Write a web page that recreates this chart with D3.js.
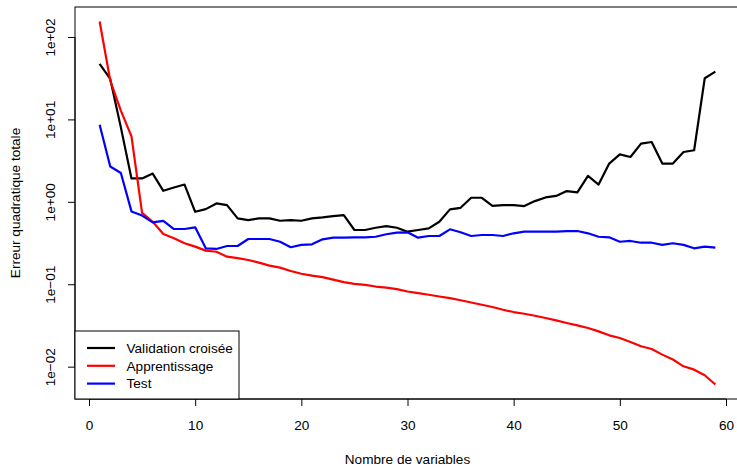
<!DOCTYPE html>
<html>
<head>
<meta charset="utf-8">
<script src="https://cdn.jsdelivr.net/npm/d3@7"></script>
<style>
  body { margin: 0; background: #fff; }
  svg { display: block; font-family: "Liberation Sans", Arial, sans-serif; }
</style>
</head>
<body>
<svg></svg>
<script>
// nombre de variables 1..59
let nbVariables = d3.range(1, 60);

let validation = [47.1, 31, 8, 1.92, 1.92, 2.2, 1.36, 1.49, 1.62, 0.757,
  0.816, 0.956, 0.912, 0.63, 0.60, 0.63, 0.63, 0.589, 0.60, 0.589,
  0.63, 0.647, 0.672, 0.69, 0.455, 0.455, 0.485, 0.508, 0.485, 0.434,
  0.455, 0.477, 0.573, 0.81, 0.846, 1.12, 1.12, 0.895, 0.912, 0.912,
  0.887, 1.02, 1.13, 1.18, 1.35, 1.30, 2.06, 1.62, 2.91, 3.77,
  3.50, 5.08, 5.32, 2.91, 2.91, 4.02, 4.22, 31.6, 38.0];

let apprentissage = [154, 29.6, 12.8, 6.23, 0.736, 0.573, 0.406, 0.361, 0.314, 0.286,
  0.256, 0.248, 0.216, 0.207, 0.197, 0.183, 0.168, 0.159, 0.145, 0.134,
  0.127, 0.122, 0.114, 0.106, 0.101, 0.0984, 0.0938, 0.0912, 0.0872, 0.0816,
  0.078, 0.0745, 0.071, 0.0679, 0.0639, 0.0601, 0.0564, 0.0529, 0.049, 0.046,
  0.0439, 0.0415, 0.0389, 0.0364, 0.0339, 0.0317, 0.0295, 0.0268, 0.024, 0.0223,
  0.0199, 0.0177, 0.0164, 0.014, 0.0122, 0.0101, 0.0092, 0.00787, 0.00608];

let test = [8.63, 2.68, 2.24, 0.765, 0.681, 0.563, 0.587, 0.468, 0.468, 0.49,
  0.273, 0.268, 0.291, 0.291, 0.354, 0.354, 0.354, 0.328, 0.281, 0.30,
  0.305, 0.351, 0.367, 0.367, 0.371, 0.371, 0.377, 0.404, 0.422, 0.427,
  0.367, 0.385, 0.385, 0.464, 0.427, 0.385, 0.396, 0.396, 0.385, 0.415,
  0.434, 0.434, 0.434, 0.434, 0.442, 0.442, 0.415, 0.377, 0.371, 0.328,
  0.335, 0.319, 0.319, 0.30, 0.314, 0.30, 0.273, 0.286, 0.278];

let xTicks = [0, 10, 20, 30, 40, 50, 60];
let yTicks = [1e-2, 1e-1, 1, 10, 100];
let yTickLabels = ["1e\u221202", "1e\u221201", "1e+00", "1e+01", "1e+02"];

let legendLabels = ["Validation croisée", "Apprentissage", "Test"];
let colors = ["#000000", "#ff0000", "#0000ff"];

let width = 737;
let height = 467;
let plotLeft = 75, plotRight = 740, plotTop = 7, plotBottom = 399;
let fontSize = 13.6;

const svg = d3.select('svg').attr('width', width).attr('height', height);

let series = [validation, apprentissage, test];

// etendue a la maniere de R (4 %)
let xMin = d3.min(nbVariables), xMax = d3.max(nbVariables);
let xPad = (xMax - xMin) * 0.04;
let allY = series.flat();
let lMin = Math.log10(d3.min(allY)), lMax = Math.log10(d3.max(allY));
let lPad = (lMax - lMin) * 0.04;

let xScale = d3.scaleLinear()
               .domain([xMin - xPad, xMax + xPad])
               .range([plotLeft, plotRight]);

let yScale = d3.scaleLog()
               .domain([Math.pow(10, lMin - lPad), Math.pow(10, lMax + lPad)])
               .range([plotBottom, plotTop]);

// lignes
let line = (vals) => d3.line()
    .x((d, i) => xScale(nbVariables[i]))
    .y((d) => yScale(d))(vals);

series.forEach((vals, k) => {
    svg.append('path')
       .attr('d', line(vals))
       .attr('fill', 'none')
       .attr('stroke', colors[k])
       .attr('stroke-width', 2.2)
       .attr('stroke-linejoin', 'round');
});

// boite
svg.append('rect')
   .attr('x', plotLeft).attr('y', plotTop)
   .attr('width', plotRight - plotLeft).attr('height', plotBottom - plotTop)
   .attr('fill', 'none').attr('stroke', '#000').attr('stroke-width', 1);

// axes
let xAxis = d3.axisBottom(xScale).tickValues(xTicks).tickSize(7).tickPadding(14).tickFormat(d3.format('d'));
let gx = svg.append('g')
   .attr('transform', 'translate(0,' + plotBottom + ')')
   .call(xAxis);
gx.attr('font-family', null);
gx.selectAll('text').attr('font-size', fontSize).attr('fill', '#000');
gx.select('.domain').attr('d', 'M' + xScale(0) + ',0H' + xScale(60));

let yAxis = d3.axisLeft(yScale).tickValues(yTicks).tickSize(7).tickFormat((d, i) => yTickLabels[i]);
let gy = svg.append('g')
   .attr('transform', 'translate(' + plotLeft + ',0)')
   .call(yAxis);
gy.attr('font-family', null);
gy.select('.domain').attr('d', 'M0,' + yScale(1e-2) + 'V' + yScale(100));
gy.selectAll('.tick text')
  .attr('x', null).attr('dy', null)
  .attr('text-anchor', 'middle')
  .attr('transform', 'translate(-20.5,0) rotate(-90)')
  .attr('font-size', fontSize).attr('fill', '#000');

// titres
svg.append('text')
   .attr('x', xScale(30)).attr('y', 464)
   .attr('text-anchor', 'middle').attr('font-size', fontSize)
   .text('Nombre de variables');

svg.append('text')
   .attr('transform', 'translate(19.5,' + ((plotTop + plotBottom) / 2) + ') rotate(-90)')
   .attr('text-anchor', 'middle').attr('font-size', fontSize)
   .text('Erreur quadratique totale');

// legende
let lg = svg.append('g');
lg.append('rect')
  .attr('x', plotLeft).attr('y', 331)
  .attr('width', 164).attr('height', plotBottom - 331)
  .attr('fill', '#fff').attr('stroke', '#000');

legendLabels.forEach((lab, k) => {
    let yy = 348 + k * 17.8;
    lg.append('line')
      .attr('x1', 87).attr('x2', 115).attr('y1', yy).attr('y2', yy)
      .attr('stroke', colors[k]).attr('stroke-width', 2.2);
    lg.append('text')
      .attr('x', 126.5).attr('y', yy + 4.8)
      .attr('font-size', fontSize)
      .text(lab);
});
</script>
</body>
</html>
